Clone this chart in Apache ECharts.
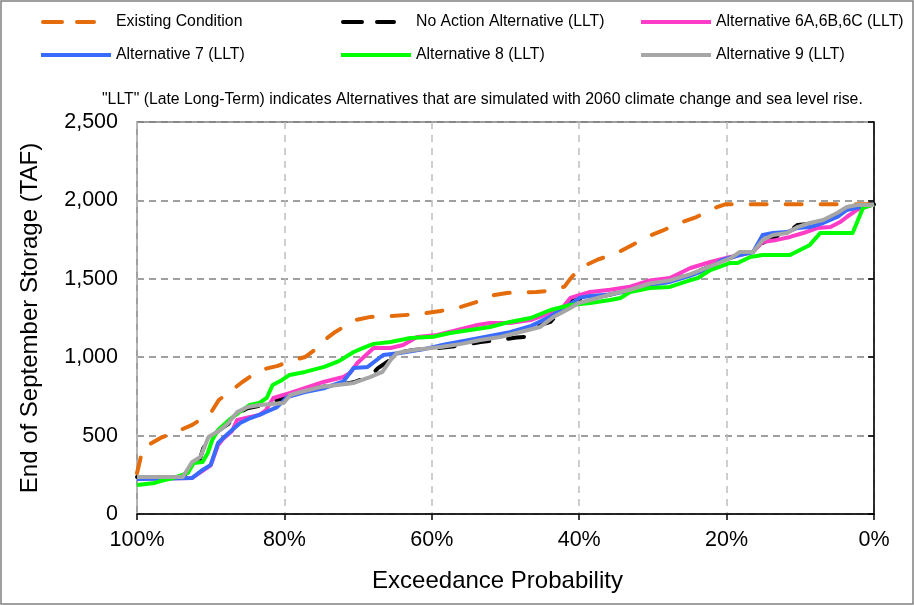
<!DOCTYPE html>
<html>
<head>
<meta charset="utf-8">
<script src="https://cdn.jsdelivr.net/npm/echarts@6/dist/echarts.min.js"></script>
<style>html,body{margin:0;padding:0;background:#fff;}#chart{width:914px;height:605px;}</style>
</head>
<body>
<div id="chart"></div>
<script>
// Tick values
const xTicks = [0, 20, 40, 60, 80, 100];
const yTicks = [0, 500, 1000, 1500, 2000, 2500];

// Series names
const seriesNames = ['Existing Condition', 'No Action Alternative (LLT)', 'Alternative 6A,6B,6C (LLT)', 'Alternative 7 (LLT)', 'Alternative 8 (LLT)', 'Alternative 9 (LLT)'];

// [exceedance %, end of September storage TAF]
const existingCondition = [[100,260],[99.2,420],[96.8,485],[94.1,536],[92.5,568],[90.0,644],[88.9,727],[87.1,791],[85.7,842],[83.3,918],[80.9,945],[79.2,975],[77.2,1001],[75.5,1060],[74.2,1122],[73.1,1161],[70.4,1237],[68.3,1257],[65.6,1263],[61.6,1275],[58.8,1295],[56.1,1320],[53.4,1360],[51.5,1397],[49.8,1410],[45.8,1416],[44.4,1422],[42.0,1450],[41.2,1500],[39.9,1570],[37.6,1620],[34.6,1671],[32.8,1716],[30.2,1779],[28.8,1805],[26.4,1856],[24.1,1894],[21.6,1952],[20.2,1975],[0,1975]];

const noAction = [[100,236],[93.8,236],[92.5,300],[91.8,300],[91.0,420],[90.0,491],[88.7,540],[87.6,575],[86.4,640],[85.0,675],[83.3,690],[80.1,740],[79.2,759],[77.8,778],[75.1,810],[72.8,823],[70.6,840],[68.3,880],[67.3,930],[65.6,985],[64.7,1027],[62.5,1046],[58.8,1060],[56.0,1075],[53.4,1097],[50.7,1110],[48.5,1125],[47.3,1130],[45.3,1205],[43.9,1225],[41.5,1352],[40.1,1370],[38.5,1375],[35.8,1400],[33.1,1430],[30.4,1470],[27.7,1490],[24.9,1530],[22.2,1580],[19.5,1630],[18.2,1660],[16.4,1670],[15.1,1729],[13.7,1765],[11.8,1790],[10.4,1843],[8.7,1850],[6.9,1870],[5.0,1900],[3.7,1950],[2.3,1965],[0,1975]];

const alt6 = [[100,223],[92.5,230],[91.1,275],[90.0,310],[89.0,440],[88.3,480],[87.1,530],[86.4,600],[84.8,618],[83.4,631],[82.5,663],[81.5,740],[79.2,772],[74.7,842],[72.0,874],[71.1,899],[70.1,963],[67.9,1059],[65.6,1059],[63.9,1078],[62.0,1129],[59.3,1142],[56.5,1174],[53.8,1205],[52.1,1218],[49.4,1218],[46.6,1237],[43.9,1282],[42.2,1320],[41.2,1378],[39.9,1397],[38.5,1416],[35.8,1430],[33.1,1450],[30.4,1490],[27.7,1505],[24.9,1569],[22.2,1607],[19.5,1639],[18.2,1652],[16.4,1671],[15.1,1735],[13.2,1748],[11.4,1767],[9.6,1792],[7.7,1824],[5.9,1830],[4.6,1862],[3.7,1894],[2.3,1939],[0,1975]];

const alt7 = [[100,223],[92.5,230],[91.1,281],[90.0,313],[89.0,453],[88.3,485],[87.1,536],[86.0,580],[84.6,612],[82.8,644],[81.0,682],[79.6,746],[77.2,778],[74.5,804],[72.0,845],[70.6,931],[68.7,938],[66.6,1014],[64.3,1027],[61.2,1050],[58.4,1080],[54.4,1115],[52.1,1135],[49.4,1160],[46.5,1200],[43.9,1260],[41.2,1340],[39.9,1380],[38.5,1390],[35.8,1400],[33.1,1425],[30.4,1460],[27.7,1480],[24.9,1520],[22.2,1570],[20.6,1620],[18.2,1652],[16.4,1671],[15.1,1779],[13.7,1792],[11.8,1798],[10.4,1824],[8.7,1830],[6.9,1856],[5.0,1894],[3.7,1939],[1.9,1958],[0,1975]];

const alt8 = [[100,185],[97.6,198],[96.3,217],[95.0,230],[93.1,262],[92.3,325],[91.1,332],[90.4,389],[89.8,472],[89.0,536],[87.5,600],[86.1,650],[84.7,695],[83.4,708],[82.4,740],[81.6,823],[80.3,855],[79.3,887],[77.2,906],[74.6,938],[72.6,975],[70.6,1033],[69.3,1059],[67.9,1085],[65.6,1097],[62.9,1122],[59.8,1130],[57.5,1154],[54.8,1174],[53.0,1186],[52.1,1193],[49.4,1225],[46.6,1250],[43.9,1301],[41.2,1333],[38.5,1346],[35.8,1365],[34.4,1378],[33.1,1416],[30.4,1441],[27.7,1448],[24.9,1492],[23.9,1505],[22.2,1556],[19.5,1601],[18.5,1601],[16.8,1639],[15.1,1652],[11.4,1652],[8.7,1716],[7.3,1792],[2.9,1792],[1.5,1952],[0,1975]];

const alt9 = [[100,236],[93.8,236],[92.5,332],[91.4,364],[90.3,491],[88.7,536],[87.6,580],[86.4,650],[85.0,682],[83.3,695],[80.1,708],[79.2,759],[77.8,778],[75.1,810],[72.8,823],[70.6,836],[68.3,874],[66.7,906],[65.6,982],[64.7,1027],[62.5,1046],[58.8,1065],[56.0,1085],[53.4,1110],[50.7,1129],[48.0,1161],[45.3,1193],[43.5,1256],[42.2,1288],[41.2,1314],[40.1,1346],[38.5,1365],[35.8,1400],[33.1,1430],[30.4,1470],[27.7,1490],[24.9,1530],[22.2,1580],[19.5,1630],[18.2,1671],[16.4,1671],[15.1,1748],[13.7,1779],[11.8,1792],[10.4,1830],[8.7,1856],[6.9,1875],[5.0,1920],[3.7,1958],[2.3,1971],[0,1971]];

const seriesData = [existingCondition, noAction, alt6, alt7, alt8, alt9];
const colors = ['#E46C0A', '#000000', '#FF3CC8', '#3A6BFF', '#00FF00', '#A6A6A6'];
const dashed = [true, true, false, false, false, false];

const FONT = '"Liberation Sans", Arial, sans-serif';
const chart = echarts.init(document.getElementById('chart'), null, {renderer: 'canvas'});

const legendPos = [[41,14],[341,14],[641,14],[41,47],[341,47],[641,47]];
const dashIcon = 'path://M2,0H21A2,2 0 0 1 21,4H2A2,2 0 0 1 2,0Z M36,0H53A2,2 0 0 1 53,4H36A2,2 0 0 1 36,0Z M69.99,2H70V2.01H69.99Z';
const solidIcon = 'path://M0,0H70V4H0Z';

const option = {
  animation: false,
  backgroundColor: '#fff',
  title: {
    text: '"LLT" (Late Long-Term) indicates Alternatives that are simulated with 2060 climate change and sea level rise.',
    left: 102, top: 92, padding: 0,
    textStyle: {fontFamily: FONT, fontSize: 15.8, fontWeight: 'normal', color: '#000'}
  },
  legend: seriesNames.map((n, i) => ({
    data: [{name: n, icon: dashed[i] ? dashIcon : solidIcon}], left: legendPos[i][0], top: legendPos[i][1], padding: 0,
    itemWidth: 70, itemHeight: 4, itemGap: 0,
    textStyle: {fontFamily: FONT, fontSize: 15.8, color: '#000'}
  })),
  grid: {left: 137, right: 40, top: 122, bottom: 91, show: true, borderColor: '#808080', borderWidth: 1.5, backgroundColor: 'transparent'},
  xAxis: {
    type: 'value', min: 0, max: 100, interval: 20, inverse: true,
    name: 'Exceedance Probability', nameLocation: 'middle', nameGap: 55,
    nameTextStyle: {fontFamily: FONT, fontSize: 24, color: '#000', padding: [0, 16, 0, 0]},
    axisLine: {show: true, onZero: false, lineStyle: {color: '#000', width: 1.5}},
    axisTick: {show: true, inside: false, length: 6, lineStyle: {color: '#000', width: 1.5}},
    axisLabel: {fontFamily: FONT, fontSize: 21.5, color: '#000', margin: 15, formatter: v => v + '%'},
    splitLine: {show: true, lineStyle: {color: '#BFBFBF', width: 1.5, type: [7, 6]}}
  },
  yAxis: {
    type: 'value', min: 0, max: 2500, interval: 500,
    name: 'End of September Storage (TAF)', nameLocation: 'middle', nameGap: 95, nameRotate: 90,
    nameTextStyle: {fontFamily: FONT, fontSize: 24, color: '#000'},
    axisLine: {show: true, lineStyle: {color: '#000', width: 1.5}},
    axisTick: {show: true, inside: false, length: 6, lineStyle: {color: '#000', width: 1.5}},
    axisLabel: {fontFamily: FONT, fontSize: 21.5, color: '#000', margin: 19, formatter: v => v.toLocaleString('en-US')},
    splitLine: {show: true, lineStyle: {color: '#808080', width: 1.5, type: [7, 5]}}
  },
  graphic: [{type: 'rect', shape: {x: 1, y: 1, width: 912, height: 603}, style: {fill: 'none', stroke: '#808080', lineWidth: 1.5}, silent: true}],
  series: seriesNames.map((n, i) => ({
    name: n, type: 'line', data: seriesData[i], symbol: 'none', showSymbol: false,
    lineStyle: {color: colors[i], width: 4, type: dashed[i] ? [16, 19] : 'solid', cap: dashed[i] ? 'round' : 'butt', join: 'round'},
    itemStyle: {color: colors[i]},
    z: 2 + i
  }))
};
chart.setOption(option);
</script>
</body>
</html>
